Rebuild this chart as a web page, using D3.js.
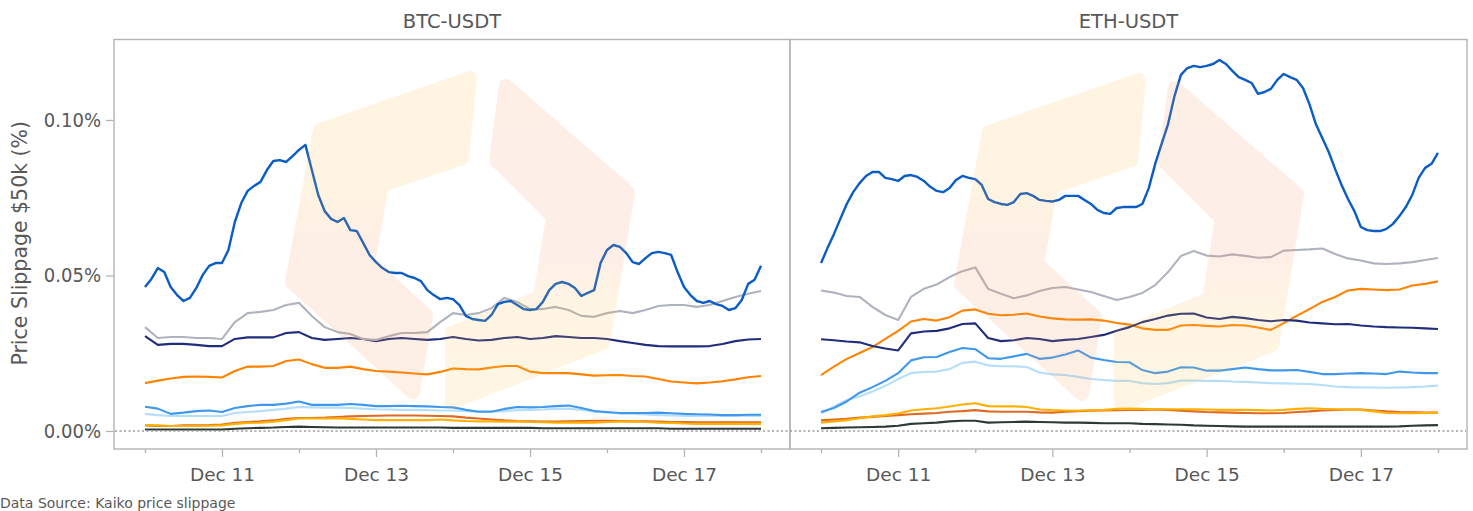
<!DOCTYPE html>
<html>
<head>
<meta charset="utf-8">
<script src="https://cdn.jsdelivr.net/npm/d3@7"></script>
<style>
  body { margin: 0; background: #fff; }
  svg { display: block; font-family: "DejaVu Sans", sans-serif; }
</style>
</head>
<body>
<svg id="chart" width="1473" height="511"></svg>
<script>
// ---- data (slippage in %, Dec 10 00:00 -> Dec 18 00:00, evenly spaced) ----
var pairs = ["BTC-USDT", "ETH-USDT"];
var yTicks = [0, 0.05, 0.10];
var startDay = Date.UTC(2022, 11, 10);

// BTC-USDT, blue is 2-hourly, the others 4-hourly
var btcBlue = [0.0463,0.0489,0.0524,0.0511,0.0463,0.0437,0.0418,0.0428,0.0460,0.0502,
  0.0531,0.0540,0.0540,0.0582,0.0672,0.0733,0.0772,0.0788,0.0801,0.0839,
  0.0868,0.0871,0.0865,0.0884,0.0904,0.0920,0.0839,0.0759,0.0707,0.0682,
  0.0672,0.0685,0.0646,0.0643,0.0605,0.0566,0.0543,0.0524,0.0511,0.0508,
  0.0508,0.0498,0.0492,0.0482,0.0453,0.0437,0.0424,0.0428,0.0424,0.0405,
  0.0370,0.0360,0.0357,0.0354,0.0373,0.0408,0.0415,0.0418,0.0405,0.0392,
  0.0389,0.0392,0.0415,0.0453,0.0473,0.0479,0.0473,0.0460,0.0434,0.0444,
  0.0453,0.0540,0.0582,0.0598,0.0592,0.0572,0.0543,0.0537,0.0556,0.0572,
  0.0576,0.0572,0.0566,0.0511,0.0463,0.0437,0.0418,0.0412,0.0418,0.0408,
  0.0402,0.0389,0.0395,0.0421,0.0473,0.0486,0.0531];
var btcGrey = [0.0334,0.0299,0.0302,0.0302,0.0299,0.0299,0.0296,0.0350,0.0379,0.0383,
  0.0389,0.0405,0.0412,0.0370,0.0334,0.0318,0.0312,0.0296,0.0293,0.0305,
  0.0315,0.0315,0.0318,0.0350,0.0379,0.0373,0.0379,0.0395,0.0428,0.0415,
  0.0392,0.0392,0.0399,0.0389,0.0370,0.0367,0.0379,0.0386,0.0379,0.0389,
  0.0402,0.0405,0.0405,0.0399,0.0405,0.0418,0.0431,0.0441,0.0450];
var btcNavy = [0.0305,0.0277,0.0280,0.0280,0.0277,0.0273,0.0273,0.0296,0.0301,0.0301,
  0.0301,0.0315,0.0318,0.0299,0.0293,0.0296,0.0299,0.0296,0.0289,0.0296,
  0.0299,0.0296,0.0293,0.0296,0.0302,0.0296,0.0291,0.0293,0.0299,0.0302,
  0.0296,0.0299,0.0305,0.0302,0.0299,0.0299,0.0296,0.0289,0.0283,0.0277,
  0.0273,0.0272,0.0272,0.0272,0.0273,0.0280,0.0289,0.0294,0.0296];
var btcOrange = [0.0154,0.0162,0.0169,0.0174,0.0175,0.0174,0.0172,0.0193,0.0207,0.0207,
  0.0209,0.0225,0.0230,0.0215,0.0203,0.0203,0.0207,0.0199,0.0193,0.0191,
  0.0188,0.0185,0.0182,0.0190,0.0201,0.0199,0.0198,0.0204,0.0209,0.0209,
  0.0191,0.0186,0.0186,0.0186,0.0182,0.0178,0.0179,0.0180,0.0177,0.0175,
  0.0167,0.0159,0.0156,0.0153,0.0156,0.0160,0.0166,0.0173,0.0177];
var btcMidBlue = [0.0078,0.0072,0.0055,0.0059,0.0064,0.0066,0.0061,0.0074,0.0080,0.0084,
  0.0084,0.0088,0.0095,0.0084,0.0084,0.0084,0.0087,0.0084,0.0080,0.0080,
  0.0081,0.0080,0.0079,0.0077,0.0076,0.0068,0.0062,0.0062,0.0071,0.0077,
  0.0076,0.0077,0.0080,0.0082,0.0074,0.0064,0.0061,0.0058,0.0058,0.0058,
  0.0059,0.0057,0.0055,0.0054,0.0053,0.0051,0.0051,0.0052,0.0052];
var btcLightBlue = [0.0055,0.0051,0.0048,0.0048,0.0048,0.0048,0.0048,0.0058,0.0061,0.0064,
  0.0068,0.0072,0.0077,0.0076,0.0075,0.0075,0.0074,0.0072,0.0070,0.0069,
  0.0068,0.0068,0.0067,0.0066,0.0066,0.0064,0.0063,0.0063,0.0064,0.0067,
  0.0068,0.0069,0.0071,0.0072,0.0068,0.0063,0.0059,0.0056,0.0055,0.0053,
  0.0051,0.0050,0.0048,0.0048,0.0048,0.0048,0.0048,0.0048,0.0048];
var btcAmber = [0.0019,0.0018,0.0016,0.0016,0.0016,0.0017,0.0018,0.0023,0.0026,0.0027,
  0.0030,0.0035,0.0040,0.0040,0.0040,0.0041,0.0039,0.0037,0.0035,0.0035,
  0.0035,0.0035,0.0035,0.0037,0.0034,0.0032,0.0031,0.0031,0.0030,0.0030,
  0.0029,0.0028,0.0027,0.0027,0.0027,0.0027,0.0029,0.0030,0.0030,0.0029,
  0.0027,0.0026,0.0024,0.0023,0.0023,0.0023,0.0023,0.0023,0.0023];
var btcRust = [0.0018,0.0016,0.0016,0.0018,0.0018,0.0019,0.0021,0.0026,0.0029,0.0031,
  0.0034,0.0039,0.0042,0.0042,0.0043,0.0045,0.0047,0.0048,0.0049,0.0050,
  0.0050,0.0050,0.0049,0.0048,0.0047,0.0043,0.0040,0.0037,0.0034,0.0032,
  0.0031,0.0030,0.0030,0.0031,0.0032,0.0033,0.0033,0.0032,0.0031,0.0031,
  0.0030,0.0029,0.0029,0.0028,0.0028,0.0028,0.0028,0.0028,0.0028];
var btcBlack = [0.0005,0.0005,0.0005,0.0005,0.0005,0.0005,0.0005,0.0007,0.0009,0.0010,
  0.0011,0.0013,0.0014,0.0013,0.0012,0.0011,0.0011,0.0011,0.0011,0.0011,
  0.0011,0.0011,0.0011,0.0011,0.0010,0.0010,0.0010,0.0010,0.0010,0.0010,
  0.0010,0.0009,0.0009,0.0009,0.0009,0.0009,0.0009,0.0009,0.0009,0.0009,
  0.0009,0.0007,0.0007,0.0007,0.0007,0.0007,0.0007,0.0007,0.0007];

// ETH-USDT
var ethBlue = [0.0540,0.0588,0.0633,0.0682,0.0730,0.0768,0.0797,0.0820,0.0833,0.0833,
  0.0814,0.0810,0.0804,0.0820,0.0823,0.0817,0.0804,0.0785,0.0772,0.0768,
  0.0781,0.0807,0.0820,0.0814,0.0810,0.0791,0.0746,0.0736,0.0730,0.0727,
  0.0736,0.0762,0.0765,0.0756,0.0743,0.0740,0.0738,0.0743,0.0756,0.0756,
  0.0756,0.0743,0.0730,0.0711,0.0701,0.0698,0.0717,0.0720,0.0720,0.0720,
  0.0730,0.0781,0.0859,0.0923,0.0987,0.1077,0.1145,0.1167,0.1174,0.1170,
  0.1174,0.1180,0.1193,0.1180,0.1158,0.1138,0.1129,0.1119,0.1084,0.1090,
  0.1100,0.1129,0.1148,0.1138,0.1129,0.1103,0.1051,0.0987,0.0942,0.0897,
  0.0842,0.0791,0.0746,0.0707,0.0656,0.0646,0.0643,0.0643,0.0650,0.0666,
  0.0691,0.0720,0.0759,0.0814,0.0846,0.0859,0.0894];
var ethGrey = [0.0452,0.0445,0.0434,0.0431,0.0399,0.0373,0.0357,0.0431,0.0457,0.0471,
  0.0495,0.0514,0.0526,0.0457,0.0441,0.0427,0.0436,0.0450,0.0460,0.0463,
  0.0455,0.0447,0.0434,0.0421,0.0431,0.0444,0.0469,0.0511,0.0563,0.0579,
  0.0564,0.0561,0.0568,0.0563,0.0557,0.0559,0.0580,0.0582,0.0584,0.0587,
  0.0569,0.0555,0.0548,0.0539,0.0537,0.0539,0.0543,0.0550,0.0556];
var ethNavy = [0.0295,0.0292,0.0288,0.0285,0.0273,0.0265,0.0259,0.0314,0.0320,0.0322,
  0.0330,0.0344,0.0346,0.0299,0.0289,0.0292,0.0299,0.0296,0.0289,0.0293,
  0.0296,0.0302,0.0309,0.0322,0.0334,0.0350,0.0360,0.0371,0.0377,0.0378,
  0.0365,0.0360,0.0367,0.0363,0.0357,0.0353,0.0357,0.0355,0.0349,0.0346,
  0.0343,0.0344,0.0339,0.0336,0.0334,0.0333,0.0332,0.0330,0.0328];
var ethOrange = [0.0180,0.0207,0.0232,0.0251,0.0270,0.0296,0.0322,0.0352,0.0360,0.0355,
  0.0366,0.0387,0.0391,0.0377,0.0372,0.0374,0.0378,0.0368,0.0362,0.0359,
  0.0358,0.0359,0.0355,0.0347,0.0342,0.0330,0.0325,0.0325,0.0339,0.0341,
  0.0338,0.0336,0.0341,0.0339,0.0333,0.0325,0.0347,0.0370,0.0392,0.0415,
  0.0431,0.0452,0.0457,0.0455,0.0453,0.0455,0.0468,0.0473,0.0481];
var ethMidBlue = [0.0061,0.0074,0.0095,0.0123,0.0141,0.0161,0.0186,0.0227,0.0237,0.0238,
  0.0254,0.0267,0.0263,0.0234,0.0232,0.0240,0.0248,0.0232,0.0236,0.0246,
  0.0259,0.0236,0.0228,0.0222,0.0221,0.0196,0.0186,0.0191,0.0205,0.0204,
  0.0194,0.0194,0.0199,0.0204,0.0199,0.0195,0.0195,0.0196,0.0190,0.0183,
  0.0183,0.0185,0.0186,0.0185,0.0183,0.0191,0.0188,0.0186,0.0186];
var ethLightBlue = [0.0056,0.0079,0.0100,0.0111,0.0127,0.0145,0.0167,0.0186,0.0190,0.0191,
  0.0199,0.0219,0.0223,0.0211,0.0208,0.0208,0.0206,0.0188,0.0182,0.0180,
  0.0174,0.0167,0.0164,0.0161,0.0161,0.0154,0.0151,0.0154,0.0162,0.0162,
  0.0161,0.0161,0.0159,0.0158,0.0156,0.0154,0.0153,0.0152,0.0151,0.0148,
  0.0143,0.0141,0.0140,0.0140,0.0139,0.0140,0.0141,0.0143,0.0146];
var ethAmber = [0.0027,0.0031,0.0035,0.0041,0.0047,0.0051,0.0056,0.0066,0.0070,0.0073,
  0.0079,0.0085,0.0089,0.0080,0.0079,0.0079,0.0077,0.0069,0.0067,0.0066,
  0.0065,0.0067,0.0068,0.0071,0.0072,0.0071,0.0070,0.0070,0.0070,0.0070,
  0.0069,0.0068,0.0068,0.0068,0.0067,0.0066,0.0068,0.0071,0.0073,0.0071,
  0.0070,0.0069,0.0068,0.0063,0.0058,0.0057,0.0057,0.0058,0.0059];
var ethRust = [0.0034,0.0037,0.0039,0.0043,0.0045,0.0048,0.0051,0.0054,0.0056,0.0058,
  0.0062,0.0064,0.0067,0.0063,0.0062,0.0062,0.0062,0.0060,0.0059,0.0062,
  0.0064,0.0065,0.0066,0.0067,0.0068,0.0068,0.0069,0.0068,0.0065,0.0063,
  0.0061,0.0060,0.0059,0.0058,0.0057,0.0057,0.0058,0.0061,0.0063,0.0066,
  0.0068,0.0069,0.0069,0.0066,0.0063,0.0061,0.0060,0.0059,0.0059];
var ethBlack = [0.0009,0.0010,0.0011,0.0012,0.0013,0.0014,0.0017,0.0023,0.0025,0.0027,
  0.0031,0.0033,0.0033,0.0027,0.0028,0.0029,0.0030,0.0029,0.0028,0.0027,
  0.0027,0.0026,0.0025,0.0025,0.0025,0.0023,0.0022,0.0021,0.0020,0.0018,
  0.0017,0.0016,0.0015,0.0014,0.0014,0.0014,0.0014,0.0014,0.0014,0.0014,
  0.0014,0.0014,0.0014,0.0014,0.0014,0.0015,0.0017,0.0018,0.0019];

// drawing order, back to front
var seriesKeys = ["black", "rust", "amber", "lightBlue", "midBlue", "orange", "navy", "grey", "blue"];
var seriesColors = {
  black: "#2e3838", rust: "#e06a22", amber: "#ffb000", lightBlue: "#b5defb",
  midBlue: "#3f98ec", orange: "#ff8300", navy: "#1f2d7c", grey: "#afb3bd", blue: "#0b5cc4"
};
var panelSeries = [
  { black: btcBlack, rust: btcRust, amber: btcAmber, lightBlue: btcLightBlue, midBlue: btcMidBlue,
    orange: btcOrange, navy: btcNavy, grey: btcGrey, blue: btcBlue },
  { black: ethBlack, rust: ethRust, amber: ethAmber, lightBlue: ethLightBlue, midBlue: ethMidBlue,
    orange: ethOrange, navy: ethNavy, grey: ethGrey, blue: ethBlue }
];

// ---- layout ----
var DAY = 864e5;
var plotTop = 39.5, plotBottom = 449;
var panelX = [[114, 790], [790, 1467]];
var logoShift = [[0, 0], [669, 2]];
var grid = "#b4b4b4", ink = "#585858";

var svg = d3.select("#chart");
var defs = svg.append("defs");

function grad(id, stops) {
  var g = defs.append("linearGradient").attr("id", id)
    .attr("gradientUnits", "userSpaceOnUse")
    .attr("x1", 0).attr("x2", 0).attr("y1", 80).attr("y2", 400);
  stops.forEach(function(s) {
    g.append("stop").attr("offset", s[0]).attr("stop-color", s[1]);
  });
}
grad("wmLeft", [[0, "#ffbe45"], [0.35, "#ffb445"], [0.55, "#f7905e"], [1, "#f9a055"]]);
grad("wmRight", [[0, "#f7925e"], [0.55, "#f8986a"], [0.72, "#ffc045"], [1, "#ffc24a"]]);

var y = d3.scaleLinear().domain([-0.00579, 0.12588]).range([plotBottom, plotTop]);
var xDomain = [new Date(startDay - 0.4026 * DAY), new Date(startDay + 8.3766 * DAY)];

// the logo watermark, in left panel pixels
var logoLeft = [[320,130],[470,78],[462,158],[382,185],[368,262],[426,315],[413,392],[292,282]];
var logoRight = [[506,86],[628,192],[603,343],[452,402],[452,333],[540,297],[553,217],[496,160]];

pairs.forEach(function(name, p) {
  var x0 = panelX[p][0], x1 = panelX[p][1];
  var x = d3.scaleUtc().domain(xDomain).range([x0, x1]);
  var g = svg.append("g");

  var line = function(vals) {
    var step = 8 * DAY / (vals.length - 1);
    return d3.line()
      .x(function(d, i) { return x(new Date(startDay + i * step)); })
      .y(function(d) { return y(d); })(vals);
  };

  seriesKeys.forEach(function(k) {
    g.append("path")
      .attr("d", line(panelSeries[p][k]))
      .attr("fill", "none")
      .attr("stroke", seriesColors[k])
      .attr("stroke-width", k === "blue" ? 2.4 : 2.1)
      .attr("stroke-linejoin", "round");
  });

  // watermark sits above the lines, very light
  var wm = g.append("g").attr("opacity", 0.15)
    .attr("transform", "translate(" + logoShift[p][0] + "," + logoShift[p][1] + ")");
  [[logoLeft, "url(#wmLeft)"], [logoRight, "url(#wmRight)"]].forEach(function(s) {
    wm.append("path")
      .attr("d", "M" + s[0].join("L") + "Z")
      .attr("fill", s[1]).attr("stroke", s[1])
      .attr("stroke-width", 14).attr("stroke-linejoin", "round");
  });

  // frame
  g.append("rect")
    .attr("x", x0).attr("y", plotTop).attr("width", x1 - x0).attr("height", plotBottom - plotTop)
    .attr("fill", "none").attr("stroke", grid).attr("stroke-width", 1.4);

  // x ticks: every day, labels every other day
  var days = d3.utcDay.range(new Date(startDay), new Date(startDay + 8.5 * DAY));
  var minorAxis = d3.axisBottom(x).tickValues(days.filter(function(d, i) { return i % 2 === 0; }))
    .tickSize(4).tickFormat("");
  var majorAxis = d3.axisBottom(x).tickValues(days.filter(function(d, i) { return i % 2 === 1; }))
    .tickSize(8).tickPadding(11).tickFormat(d3.utcFormat("%b %d"));
  [minorAxis, majorAxis].forEach(function(ax) {
    var a = g.append("g").attr("transform", "translate(0," + plotBottom + ")").call(ax);
    a.select(".domain").remove();
    a.selectAll(".tick line").attr("stroke", grid).attr("stroke-width", 1.3);
    a.selectAll(".tick text").attr("fill", ink).attr("font-size", 18.5)
      .attr("font-family", "DejaVu Sans");
  });

  // title
  svg.append("text")
    .attr("x", (x0 + x1) / 2).attr("y", 28)
    .attr("text-anchor", "middle")
    .attr("font-size", 19.5).attr("fill", ink)
    .text(name);
});

// zero reference line across both panels
svg.append("line")
  .attr("x1", 115).attr("x2", 1466)
  .attr("y1", y(0)).attr("y2", y(0))
  .attr("stroke", "#9a9a9a").attr("stroke-width", 1.3)
  .attr("stroke-dasharray", "2,2.5");

// y axis
var yAxis = svg.append("g").attr("transform", "translate(114,0)")
  .call(d3.axisLeft(y).tickValues(yTicks).tickSize(8).tickPadding(5)
    .tickFormat(function(d) { return d.toFixed(2) + "%"; }));
yAxis.select(".domain").remove();
yAxis.selectAll(".tick line").attr("stroke", grid).attr("stroke-width", 1.3);
yAxis.selectAll(".tick text").attr("fill", ink).attr("font-size", 20)
  .attr("font-family", "'DejaVu Sans Condensed', 'DejaVu Sans'");

svg.append("text")
  .attr("transform", "translate(27," + ((plotTop + plotBottom) / 2 - 1) + ") rotate(-90)")
  .attr("text-anchor", "middle")
  .attr("font-size", 20.5).attr("fill", ink)
  .text("Price Slippage $50k (%)");

svg.append("text")
  .attr("x", 0).attr("y", 508)
  .attr("font-size", 14).attr("fill", ink)
  .text("Data Source: Kaiko price slippage");
</script>
</body>
</html>
